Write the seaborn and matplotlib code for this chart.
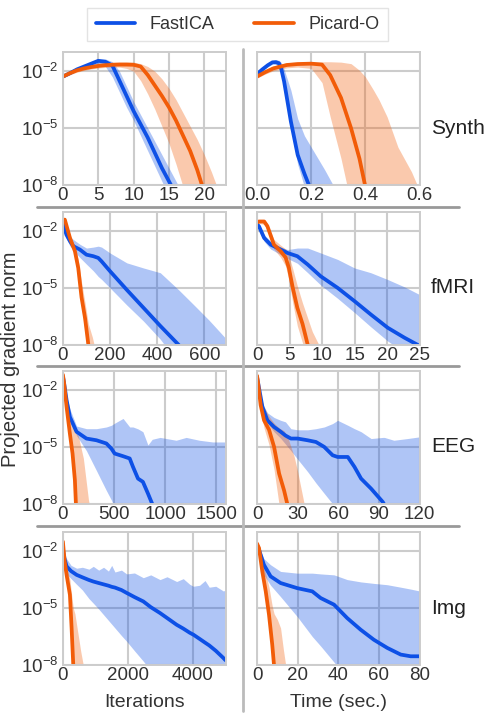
import numpy as np
import matplotlib
matplotlib.use("Agg")
import matplotlib.pyplot as plt
import seaborn as sns
from matplotlib.lines import Line2D
from matplotlib import transforms

# values are log10 of the projected gradient norm
# --- Synth, iterations
synth_it_fast_x = [0, 1, 2, 3, 4, 5, 6, 7, 8, 9, 10, 11, 12, 13, 14, 15, 16, 17]
synth_it_fast = [-2.28, -2.1, -1.9, -1.75, -1.6, -1.45, -1.5, -1.7, -2.5, -3.3, -4.1, -4.8, -5.5, -6.3, -7.1, -7.8, -8.5, -9]
synth_it_fast_lo = [-2.34, -2.18, -1.98, -1.85, -1.72, -1.6, -1.75, -2.3, -3.1, -3.9, -4.6, -5.4, -6.2, -7.0, -7.8, -8.6, -9, -9]
synth_it_fast_hi = [-2.22, -2.02, -1.82, -1.65, -1.5, -1.35, -1.35, -1.5, -2.0, -2.8, -3.6, -4.3, -5.0, -5.7, -6.4, -7.1, -7.8, -8.5]
synth_it_pic_x = list(range(24))
synth_it_pic = [-2.28, -2.1, -1.95, -1.85, -1.78, -1.72, -1.68, -1.66, -1.65, -1.65, -1.66, -1.75, -2.2, -2.75, -3.3, -3.9, -4.6, -5.4, -6.2, -7.2, -8.4, -9, -9, -9]
synth_it_pic_lo = [-2.34, -2.18, -2.05, -1.95, -1.88, -1.83, -1.8, -1.78, -1.78, -1.85, -2.0, -2.5, -3.2, -4.0, -4.9, -5.8, -6.9, -8.1, -9, -9, -9, -9, -9, -9]
synth_it_pic_hi = [-2.22, -2.02, -1.85, -1.72, -1.63, -1.57, -1.54, -1.52, -1.5, -1.5, -1.52, -1.6, -1.75, -2.0, -2.4, -2.9, -3.5, -4.2, -4.9, -5.6, -6.4, -7.3, -8.3, -9]

# --- Synth, time
synth_t_fast_x = [0, 0.02, 0.04, 0.057, 0.07, 0.081, 0.09, 0.1, 0.125, 0.15, 0.175, 0.2, 0.25, 0.3]
synth_t_fast = [-2.15, -1.9, -1.68, -1.53, -1.52, -1.58, -1.9, -2.54, -4.65, -6.4, -7.4, -8.3, -9, -9]
synth_t_fast_lo = [-2.22, -1.98, -1.76, -1.62, -1.64, -1.75, -2.2, -2.9, -5.0, -6.9, -8.1, -9, -9, -9]
synth_t_fast_hi = [-2.08, -1.82, -1.6, -1.43, -1.4, -1.42, -1.55, -1.9, -3.0, -4.5, -5.4, -6.0, -7.2, -8.5]
synth_t_pic_x = [0, 0.03, 0.06, 0.11, 0.15, 0.2, 0.24, 0.27, 0.31, 0.347, 0.378, 0.4, 0.43, 0.45, 0.48, 0.52, 0.57, 0.6]
synth_t_pic = [-2.28, -2.05, -1.85, -1.67, -1.62, -1.6, -1.65, -2.2, -3.4, -5.0, -6.6, -8.1, -9, -9, -9, -9, -9, -9]
synth_t_pic_lo = [-2.36, -2.15, -1.98, -1.82, -1.78, -1.85, -2.6, -4.4, -6.6, -9, -9, -9, -9, -9, -9, -9, -9, -9]
synth_t_pic_hi = [-2.2, -1.95, -1.72, -1.55, -1.52, -1.5, -1.5, -1.5, -1.52, -1.6, -1.95, -2.3, -3.0, -3.5, -4.4, -6.0, -7.3, -8.3]

# --- fMRI, iterations
fmri_it_fast_x = [0, 4, 15, 30, 44, 72, 100, 129, 150, 164, 200, 271, 342, 413, 491, 560, 620, 690]
fmri_it_fast = [-1.6, -1.75, -2.2, -2.54, -2.8, -2.98, -3.25, -3.33, -3.42, -3.6, -4.12, -5.1, -6.05, -7.0, -8.0, -9, -9, -9]
fmri_it_fast_lo = [-1.7, -1.9, -2.4, -2.8, -3.0, -3.4, -3.75, -4.1, -4.4, -4.55, -5.0, -5.9, -6.75, -7.7, -9, -9, -9, -9]
fmri_it_fast_hi = [-1.5, -1.6, -2.1, -2.3, -2.45, -2.7, -2.9, -2.85, -2.8, -2.85, -3.16, -3.68, -3.95, -4.2, -5.1, -5.95, -6.7, -7.65]
fmri_it_pic_x = [0, 8, 30, 51, 65, 79, 94, 108, 125, 140]
fmri_it_pic = [-1.5, -1.4, -2.37, -3.07, -3.95, -5.5, -6.6, -8.0, -9, -9]
fmri_it_pic_lo = [-1.6, -1.5, -2.5, -3.3, -4.4, -6.0, -7.3, -8.8, -9, -9]
fmri_it_pic_hi = [-1.4, -1.3, -2.2, -2.85, -3.5, -4.7, -5.8, -6.9, -7.6, -8.4]

# --- fMRI, time
fmri_t_fast_x = [0, 0.3, 1.1, 2.1, 3.65, 4.7, 6.2, 7.8, 9.8, 12.4, 15, 17.5, 20.1, 22.7, 24.7, 25]
fmri_t_fast = [-1.65, -1.75, -2.37, -2.72, -2.98, -3.16, -3.33, -3.77, -4.39, -5.0, -5.7, -6.4, -7.1, -7.63, -8.0, -8.05]
fmri_t_fast_lo = [-1.75, -1.85, -2.55, -2.95, -3.25, -3.45, -3.7, -4.2, -4.85, -5.55, -6.3, -7.05, -7.8, -8.4, -8.8, -8.9]
fmri_t_fast_hi = [-1.55, -1.65, -2.2, -2.55, -2.85, -2.98, -2.9, -2.9, -3.16, -3.5, -3.95, -4.2, -4.56, -4.95, -5.3, -5.35]
fmri_t_pic_x = [0, 0.3, 1.1, 1.6, 2.6, 3.65, 4.4, 4.9, 5.5, 6.2, 7.0, 7.8, 8.5, 9.8, 11]
fmri_t_pic = [-1.55, -1.5, -1.5, -1.75, -2.72, -3.07, -3.4, -3.95, -5.0, -6.05, -6.9, -8.0, -9, -9, -9]
fmri_t_pic_lo = [-1.65, -1.6, -1.65, -1.95, -2.95, -3.4, -3.85, -4.6, -5.8, -7.0, -7.9, -8.8, -9, -9, -9]
fmri_t_pic_hi = [-1.45, -1.4, -1.4, -1.6, -2.45, -2.75, -2.95, -3.3, -4.0, -4.9, -5.8, -6.6, -7.3, -8.2, -9]

# --- EEG, iterations
eeg_it_fast_x = [0, 10, 36, 68, 133, 230, 328, 425, 474, 506, 588, 653, 685, 734, 782, 831, 873, 950, 1107, 1205, 1334, 1464, 1590]
eeg_it_fast = [-1.3, -1.58, -2.54, -3.42, -4.2, -4.56, -4.65, -4.82, -5.09, -5.35, -5.49, -5.61, -6.05, -6.67, -6.84, -7.45, -8.0, -9, -9, -9, -9, -9, -9]
eeg_it_fast_lo = [-1.4, -1.8, -3.0, -3.6, -4.4, -5.2, -6.25, -7.3, -7.8, -8.2, -9, -9, -9, -9, -9, -9, -9, -9, -9, -9, -9, -9, -9]
eeg_it_fast_hi = [-1.2, -1.45, -2.3, -3.0, -3.9, -4.04, -4.04, -3.95, -3.86, -3.75, -3.5, -3.95, -3.95, -4.05, -4.2, -4.9, -4.6, -4.5, -4.65, -4.5, -4.65, -4.74, -4.74]
eeg_it_pic_x = [0, 10, 36, 68, 94, 117, 127, 150, 200, 250, 280]
eeg_it_pic = [-1.2, -1.58, -2.9, -4.3, -5.35, -6.75, -8.0, -9, -9, -9, -9]
eeg_it_pic_lo = [-1.25, -1.7, -3.2, -4.8, -6.0, -7.5, -8.6, -9, -9, -9, -9]
eeg_it_pic_hi = [-1.15, -1.45, -2.5, -3.3, -3.7, -4.1, -4.3, -4.4, -5.6, -7.8, -8.6]

# --- EEG, time
eeg_t_fast_x = [0, 0.7, 4, 7.65, 12.6, 17.5, 21, 25, 30, 37.3, 43.5, 49.6, 55.8, 59.5, 67, 71.9, 76.8, 84.2, 92.8, 94, 101, 111, 120]
eeg_t_fast = [-1.3, -1.58, -2.9, -3.6, -3.95, -4.2, -4.4, -4.56, -4.56, -4.65, -4.74, -5.0, -5.44, -5.53, -5.53, -6.05, -6.67, -7.2, -7.9, -8.05, -9, -9, -9]
eeg_t_fast_lo = [-1.4, -1.75, -3.2, -3.75, -4.2, -4.55, -4.85, -5.2, -5.65, -6.3, -6.9, -7.45, -8.0, -8.4, -9, -9, -9, -9, -9, -9, -9, -9, -9]
eeg_t_fast_hi = [-1.2, -1.5, -2.7, -3.2, -3.45, -3.6, -3.68, -4.04, -4.1, -4.1, -4.04, -3.95, -3.77, -3.6, -3.86, -4.04, -4.2, -4.56, -4.5, -4.5, -4.65, -4.56, -4.47]
eeg_t_pic_x = [0, 0.7, 2.7, 5.2, 8.9, 12.6, 16.3, 20, 22.5, 27.4, 30, 34.8, 38]
eeg_t_pic = [-1.25, -1.58, -2.8, -3.6, -4.1, -5.0, -6.4, -7.3, -8.05, -9, -9, -9, -9]
eeg_t_pic_lo = [-1.3, -1.7, -3.1, -4.0, -4.9, -6.2, -8.05, -9, -9, -9, -9, -9, -9]
eeg_t_pic_hi = [-1.2, -1.45, -2.3, -2.9, -3.4, -3.75, -4.0, -4.15, -4.45, -5.5, -6.3, -8.0, -8.8]

# --- Img, iterations
img_it_fast_x = [0, 31, 113, 250, 421, 600, 800, 933, 1100, 1250, 1400, 1500, 1600, 1800, 1959, 2200, 2472, 2700, 2985, 3200, 3497, 3700, 3900, 4010, 4200, 4370, 4500, 4700, 4933, 5000]
img_it_fast = [-1.9, -2.3, -2.8, -3.05, -3.25, -3.38, -3.52, -3.6, -3.68, -3.75, -3.82, -3.88, -3.92, -4.05, -4.2, -4.42, -4.65, -4.95, -5.26, -5.52, -5.88, -6.08, -6.3, -6.4, -6.62, -6.82, -6.97, -7.25, -7.63, -7.75]
img_it_fast_lo = [-2.0, -2.6, -3.2, -3.45, -3.75, -4.05, -4.5, -4.74, -5.05, -5.35, -5.65, -5.85, -6.05, -6.45, -6.75, -7.25, -7.8, -8.3, -9, -9, -9, -9, -9, -9, -9, -9, -9, -9, -9, -9]
img_it_fast_hi = [-1.3, -1.9, -2.4, -2.75, -2.9, -2.85, -2.95, -2.8, -3.0, -2.85, -3.05, -2.75, -3.1, -3.0, -3.2, -3.15, -3.4, -3.25, -3.5, -3.35, -3.6, -3.45, -3.75, -3.85, -3.8, -3.55, -3.9, -3.85, -4.1, -4.05]
img_it_pic_x = [0, 50, 113, 215, 267, 318, 369, 450, 550, 626, 700]
img_it_pic = [-1.5, -2.5, -3.25, -4.3, -6.05, -8.0, -9, -9, -9, -9, -9]
img_it_pic_lo = [-1.65, -2.7, -3.6, -5.0, -7.0, -8.8, -9, -9, -9, -9, -9]
img_it_pic_hi = [-1.45, -2.2, -2.8, -3.5, -4.3, -5.0, -5.3, -6.2, -7.3, -8.0, -8.8]

# --- Img, time
img_t_fast_x = [0, 1, 3.4, 6.7, 11.6, 19.8, 27.2, 31.3, 37.9, 44.4, 51, 57.5, 64.1, 70.7, 75.6, 80]
img_t_fast = [-1.7, -1.93, -2.72, -3.33, -3.68, -3.95, -4.12, -4.47, -4.82, -5.53, -6.14, -6.67, -7.1, -7.45, -7.54, -7.54]
img_t_fast_lo = [-1.8, -2.2, -3.25, -3.8, -4.4, -5.45, -6.5, -7.0, -7.85, -8.7, -9, -9, -9, -9, -9, -9]
img_t_fast_hi = [-1.6, -1.8, -2.4, -2.72, -3.07, -3.16, -3.16, -3.2, -3.25, -3.5, -3.62, -3.7, -3.77, -3.9, -4.0, -4.1]
img_t_pic_x = [0, 1, 2.6, 4.3, 5.9, 7.5, 8.4, 10, 11.6, 13, 14.1, 15.5]
img_t_pic = [-1.6, -1.84, -3.07, -4.12, -5.35, -6.93, -8.05, -9, -9, -9, -9, -9]
img_t_pic_lo = [-1.7, -2.0, -3.3, -4.5, -5.9, -7.8, -9, -9, -9, -9, -9, -9]
img_t_pic_hi = [-1.5, -1.7, -2.6, -3.2, -3.9, -4.9, -5.3, -5.6, -6.05, -7.2, -8.0, -8.8]

datasets = ["Synth", "fMRI", "EEG", "Img"]
xlims_iter = [23, 690, 1590, 5000]
xlims_time = [0.6, 25, 120, 80]
xticks_iter = [[0, 5, 10, 15, 20], [0, 200, 400, 600], [0, 500, 1000, 1500], [0, 2000, 4000]]
xticks_time = [[0.0, 0.2, 0.4, 0.6], [0, 5, 10, 15, 20, 25], [0, 30, 60, 90, 120], [0, 20, 40, 60, 80]]
xticklabels_time = [["0.0", "0.2", "0.4", "0.6"], None, None, None]

blue = "#0d50e6"
orange = "#f25c08"

sns.set_style("whitegrid")
plt.rcParams["font.family"] = ["Liberation Sans", "DejaVu Sans"]
plt.rcParams["axes.edgecolor"] = "#cccccc"
plt.rcParams["grid.color"] = "#cccccc"
plt.rcParams["grid.linewidth"] = 1.5

fig = plt.figure(figsize=(4.84, 7.26), dpi=100)

panels = [
    [(synth_it_fast_x, synth_it_fast, synth_it_fast_lo, synth_it_fast_hi,
      synth_it_pic_x, synth_it_pic, synth_it_pic_lo, synth_it_pic_hi),
     (synth_t_fast_x, synth_t_fast, synth_t_fast_lo, synth_t_fast_hi,
      synth_t_pic_x, synth_t_pic, synth_t_pic_lo, synth_t_pic_hi)],
    [(fmri_it_fast_x, fmri_it_fast, fmri_it_fast_lo, fmri_it_fast_hi,
      fmri_it_pic_x, fmri_it_pic, fmri_it_pic_lo, fmri_it_pic_hi),
     (fmri_t_fast_x, fmri_t_fast, fmri_t_fast_lo, fmri_t_fast_hi,
      fmri_t_pic_x, fmri_t_pic, fmri_t_pic_lo, fmri_t_pic_hi)],
    [(eeg_it_fast_x, eeg_it_fast, eeg_it_fast_lo, eeg_it_fast_hi,
      eeg_it_pic_x, eeg_it_pic, eeg_it_pic_lo, eeg_it_pic_hi),
     (eeg_t_fast_x, eeg_t_fast, eeg_t_fast_lo, eeg_t_fast_hi,
      eeg_t_pic_x, eeg_t_pic, eeg_t_pic_lo, eeg_t_pic_hi)],
    [(img_it_fast_x, img_it_fast, img_it_fast_lo, img_it_fast_hi,
      img_it_pic_x, img_it_pic, img_it_pic_lo, img_it_pic_hi),
     (img_t_fast_x, img_t_fast, img_t_fast_lo, img_t_fast_hi,
      img_t_pic_x, img_t_pic, img_t_pic_lo, img_t_pic_hi)],
]


def draw(ax, d):
    fx, fm, flo, fhi, px, pm, plo, phi = d
    fx = np.array(fx)
    px = np.array(px)
    ax.fill_between(fx, 10 ** np.array(flo), 10 ** np.array(fhi), color=blue, alpha=0.33, lw=0)
    ax.fill_between(px, 10 ** np.array(plo), 10 ** np.array(phi), color=orange, alpha=0.33, lw=0)
    sns.lineplot(x=fx, y=10 ** np.array(fm), ax=ax, color=blue, lw=2.7, sort=False, estimator=None)
    sns.lineplot(x=px, y=10 ** np.array(pm), ax=ax, color=orange, lw=2.7, sort=False, estimator=None)


bottoms = [0.745, 0.525, 0.306, 0.084]
for i in range(4):
    for j in range(2):
        left = 0.130 if j == 0 else 0.531
        ax = fig.add_axes([left, bottoms[i], 0.336, 0.183])
        draw(ax, panels[i][j])
        ax.set_yscale("log")
        ax.set_ylim(1e-8, 1e-1)
        ax.set_yticks([1e-8, 1e-5, 1e-2])
        ax.minorticks_off()
        if j == 0:
            ax.set_xlim(0, xlims_iter[i])
            ax.set_xticks(xticks_iter[i])
            ax.tick_params(axis="y", labelsize=13.5, pad=3)
        else:
            ax.set_xlim(0, xlims_time[i])
            ax.set_xticks(xticks_time[i])
            if xticklabels_time[i] is not None:
                ax.set_xticklabels(xticklabels_time[i])
            ax.set_yticklabels([])
            trans = transforms.blended_transform_factory(ax.transAxes, ax.transData)
            ax.text(1.07, 1e-5, datasets[i], transform=trans, va="center", ha="left", fontsize=15, color="#222222")
        ax.tick_params(axis="x", labelsize=13.5, pad=1.5)
        ax.tick_params(length=0, colors="#333333")
        for s in ax.spines.values():
            s.set_linewidth(1.4)
        if i == 3:
            ax.set_xlabel("Iterations" if j == 0 else "Time (sec.)", fontsize=14, color="#333333", labelpad=7)

# separators
for y in [0.715, 0.496, 0.2755]:
    fig.add_artist(Line2D([0.076, 0.948], [y, y], transform=fig.transFigure, color="#999999", lw=2))
fig.add_artist(Line2D([0.502, 0.502], [0.021, 0.933], transform=fig.transFigure, color="#bbbbbb", lw=2))

fig.text(0.022, 0.505, "Projected gradient norm", rotation=90, va="center", ha="center", fontsize=14.5, color="#333333")

handles = [Line2D([], [], color=blue, lw=2.7), Line2D([], [], color=orange, lw=2.7)]
leg = fig.legend(handles, ["FastICA", "Picard-O"], loc="center", bbox_to_anchor=(0.491, 0.966), ncol=2,
                 fontsize=13, frameon=True, fancybox=False, handlelength=2.2, columnspacing=2.2,
                 edgecolor="#dddddd", borderpad=0.45)
for t in leg.get_texts():
    t.set_color("#333333")

fig.savefig("out.png", dpi=100)
